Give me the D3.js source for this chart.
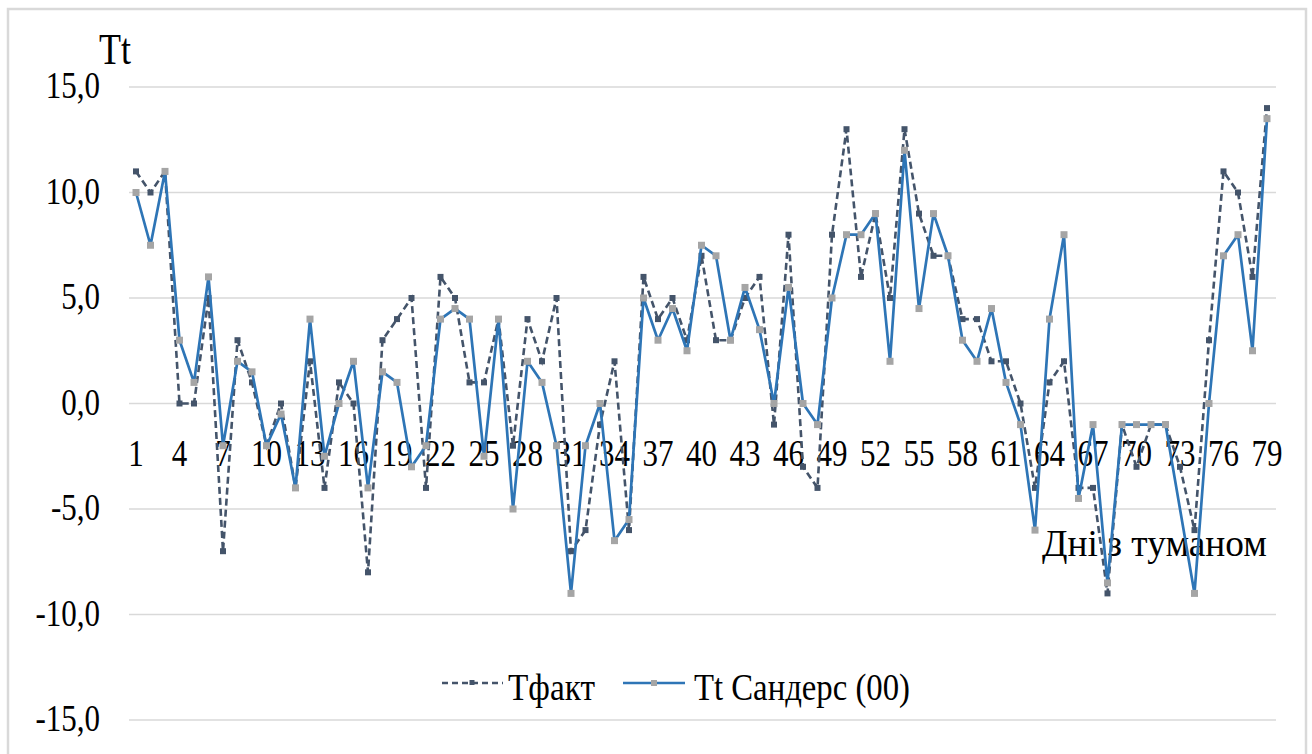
<!DOCTYPE html>
<html>
<head>
<meta charset="utf-8">
<script src="https://cdn.jsdelivr.net/npm/d3@7"></script>
<style>
  html, body { margin: 0; padding: 0; background: #fff; }
  svg { display: block; }
  text { font-family: "Liberation Serif", "Times New Roman", serif; fill: #000; }
</style>
</head>
<body>
<svg id="chart" width="1312" height="754"></svg>
<script>
// Days with fog, numbered 1..79
const days = d3.range(1, 80);

// Observed temperature
const tFact = [
  11, 10, 11, 0, 0, 5, -7, 3, 1, -2,
  0, -4, 2, -4, 1, 0, -8, 3, 4, 5,
  -4, 6, 5, 1, 1, 4, -2, 4, 2, 5,
  -7, -6, -1, 2, -6, 6, 4, 5, 3, 7,
  3, 3, 5, 6, -1, 8, -3, -4, 8, 13,
  6, 9, 5, 13, 9, 7, 7, 4, 4, 2,
  2, 0, -4, 1, 2, -4, -4, -9, -1, -3,
  -1, -1, -3, -6, 3, 11, 10, 6, 14
];

// Sanders method estimate (00); day 73 has no estimate
const tSanders = [
  10, 7.5, 11, 3, 1, 6, -2, 2, 1.5, -2,
  -0.5, -4, 4, -2.5, 0, 2, -4, 1.5, 1, -3,
  -2, 4, 4.5, 4, -2.5, 4, -5, 2, 1, -2,
  -9, -2, 0, -6.5, -5.5, 5, 3, 4.5, 2.5, 7.5,
  7, 3, 5.5, 3.5, 0, 5.5, 0, -1, 5, 8,
  8, 9, 2, 12, 4.5, 9, 7, 3, 2, 4.5,
  1, -1, -6, 4, 8, -4.5, -1, -8.5, -1, -1,
  -1, -1, null, -9, 0, 7, 8, 2.5, 13.5
];

const yTicks = [15, 10, 5, 0, -5, -10, -15];
const xTickDays = days.filter(d => (d - 1) % 3 === 0);
const seriesNames = ["Тфакт", "Tt Сандерс (00)"];
const yTitle = "Tt";
const xTitle = "Дні з туманом";

const svg = d3.select("#chart");
const FS = 31, SY = 1.25;

// Text helper: serif text slightly stretched vertically
function label(g, x, y, str, anchor, size, width) {
  const t = g.append("text")
    .attr("transform", `translate(${x},${y}) scale(1,${SY})`)
    .attr("text-anchor", anchor || "start")
    .attr("font-size", size || FS)
    .text(str);
  if (width) t.attr("textLength", width).attr("lengthAdjust", "spacingAndGlyphs");
  return t;
}

// Outer frame
svg.append("rect")
  .attr("x", 8).attr("y", 9).attr("width", 1298).attr("height", 760)
  .attr("fill", "none").attr("stroke", "#d9d9d9").attr("stroke-width", 2.5);

const x = d3.scalePoint().domain(days).range([136, 1267]);
const y = d3.scaleLinear().domain([-15, 15]).range([720, 87]);
const gridX0 = 129, gridX1 = 1276;

// Horizontal gridlines
svg.append("g").selectAll("line").data(yTicks).join("line")
  .attr("x1", gridX0).attr("x2", gridX1)
  .attr("y1", d => y(d)).attr("y2", d => y(d))
  .attr("stroke", "#d9d9d9").attr("stroke-width", 1.5);

// Value axis labels
const yAxisG = svg.append("g");
yTicks.forEach(v => {
  label(yAxisG, 100, y(v) + 11, v.toFixed(1).replace(".", ","), "end");
});
label(svg, 99, 64, yTitle, "start", 36);

// Category labels sit along the zero line
const xAxisG = svg.append("g");
xTickDays.forEach(d => {
  label(xAxisG, x(d), y(0) + 62, String(d), "middle");
});
label(svg, 1042, 556, xTitle, "start", FS, 225);

// Pair values with their day, dropping gaps so the line bridges them
const pts = vals => vals.map((v, i) => ({ day: days[i], v })).filter(p => p.v != null);
const lineGen = d3.line().x(p => x(p.day)).y(p => y(p.v));

// Observed series: dashed dark slate line
svg.append("path")
  .attr("d", lineGen(pts(tFact)))
  .attr("fill", "none").attr("stroke", "#44546a")
  .attr("stroke-width", 2.6).attr("stroke-dasharray", "7,4");
svg.append("g").selectAll("rect").data(pts(tFact)).join("rect")
  .attr("x", p => x(p.day) - 3).attr("y", p => y(p.v) - 3)
  .attr("width", 6).attr("height", 6).attr("fill", "#44546a");

// Sanders series: solid blue line with grey markers
svg.append("path")
  .attr("d", lineGen(pts(tSanders)))
  .attr("fill", "none").attr("stroke", "#2e75b6")
  .attr("stroke-width", 2.7).attr("stroke-linejoin", "round");
svg.append("g").selectAll("rect").data(pts(tSanders)).join("rect")
  .attr("x", p => x(p.day) - 3.5).attr("y", p => y(p.v) - 3.5)
  .attr("width", 7).attr("height", 7).attr("fill", "#a5a5a5");

// Legend
const leg = svg.append("g");
const ly = 683;
leg.append("line").attr("x1", 442).attr("x2", 503).attr("y1", ly).attr("y2", ly)
  .attr("stroke", "#44546a").attr("stroke-width", 2.6).attr("stroke-dasharray", "6,4");
leg.append("rect").attr("x", 469.5).attr("y", ly - 3).attr("width", 5).attr("height", 5).attr("fill", "#44546a");
label(leg, 508, 700, seriesNames[0], "start", FS, 87);
leg.append("line").attr("x1", 623).attr("x2", 685).attr("y1", ly).attr("y2", ly)
  .attr("stroke", "#2e75b6").attr("stroke-width", 2.7);
leg.append("rect").attr("x", 651).attr("y", ly - 3).attr("width", 6).attr("height", 6).attr("fill", "#a5a5a5");
label(leg, 694, 700, seriesNames[1], "start", FS, 216);
</script>
</body>
</html>
